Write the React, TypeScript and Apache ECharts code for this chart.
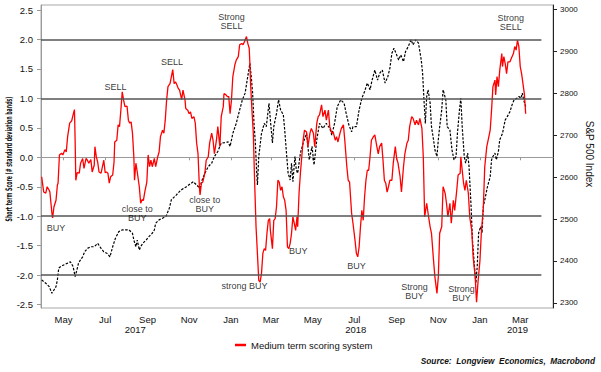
import React, { useEffect, useRef } from "react";
import * as echarts from "echarts";

// ---- Data ----
const scoreSeries: [string, number][] = [
  ["2017-03-30",-0.33],["2017-03-31",-0.42],["2017-04-02",-0.59],["2017-04-05",-0.61],["2017-04-07",-0.50],["2017-04-10",-0.56],["2017-04-11",-0.59],["2017-04-14",-0.95],["2017-04-15",-1.03],["2017-04-17",-0.84],["2017-04-20",-0.73],["2017-04-22",-0.47],["2017-04-23",-0.44],["2017-04-25",0.04],["2017-04-28",0.07],["2017-04-30",0.04],
  ["2017-05-03",0.13],["2017-05-05",0.09],["2017-05-07",0.35],["2017-05-10",0.58],["2017-05-13",0.62],["2017-05-15",0.72],["2017-05-17",0.81],["2017-05-18",0.29],["2017-05-19",-0.39],["2017-05-21",-0.26],["2017-05-24",-0.27],["2017-05-26",-0.10],["2017-05-29",-0.02],["2017-05-31",-0.19],
  ["2017-06-03",-0.02],["2017-06-05",-0.05],["2017-06-07",-0.10],["2017-06-10",-0.04],["2017-06-12",-0.25],["2017-06-15",-0.13],["2017-06-16",0.18],["2017-06-18",0.01],["2017-06-20",-0.08],["2017-06-22",-0.25],["2017-06-25",-0.27],["2017-06-27",-0.16],["2017-06-29",-0.05],
  ["2017-07-01",-0.26],["2017-07-03",-0.25],["2017-07-05",-0.27],["2017-07-07",-0.44],["2017-07-09",-0.33],["2017-07-12",-0.30],["2017-07-14",-0.08],["2017-07-15",0.26],["2017-07-18",0.29],["2017-07-20",0.55],["2017-07-22",0.52],["2017-07-24",0.80],["2017-07-26",1.11],["2017-07-28",0.97],["2017-07-30",0.86],
  ["2017-08-02",0.87],["2017-08-04",0.63],["2017-08-06",0.58],["2017-08-08",0.60],["2017-08-10",0.41],["2017-08-12",0.01],["2017-08-13",-0.39],["2017-08-15",-0.10],["2017-08-17",-0.25],["2017-08-20",-0.50],["2017-08-22",-0.78],["2017-08-24",-0.72],["2017-08-26",-0.73],["2017-08-28",-0.59],["2017-08-31",-0.42],
  ["2017-09-02",0.04],["2017-09-04",-0.16],["2017-09-06",-0.05],["2017-09-08",-0.16],["2017-09-11",-0.02],["2017-09-13",-0.16],["2017-09-16",0.01],["2017-09-18",0.09],["2017-09-20",0.35],["2017-09-23",0.46],["2017-09-25",0.41],["2017-09-27",0.63],["2017-09-29",0.97],
  ["2017-10-01",1.20],["2017-10-04",1.25],["2017-10-06",1.37],["2017-10-08",1.49],["2017-10-10",1.25],["2017-10-12",1.28],["2017-10-14",1.23],["2017-10-16",1.17],["2017-10-18",1.14],["2017-10-21",0.98],["2017-10-23",1.14],["2017-10-26",0.97],["2017-10-27",0.83],["2017-10-30",0.80],
  ["2017-11-01",0.74],["2017-11-03",0.77],["2017-11-05",0.66],["2017-11-08",0.69],["2017-11-10",0.58],["2017-11-12",0.24],["2017-11-14",0.06],["2017-11-16",-0.50],["2017-11-17",-0.64],["2017-11-19",-0.44],["2017-11-21",-0.42],["2017-11-24",-0.27],["2017-11-26",-0.05],["2017-11-29",0.01],
  ["2017-12-01",0.24],["2017-12-04",0.41],["2017-12-06",0.29],["2017-12-08",0.06],["2017-12-11",0.29],["2017-12-13",0.52],["2017-12-16",0.18],["2017-12-18",0.69],["2017-12-21",0.86],["2017-12-22",1.08],["2017-12-25",1.06],["2017-12-27",1.03],["2017-12-29",1.03],["2017-12-31",0.74],
  ["2018-01-02",0.97],["2018-01-04",1.37],["2018-01-07",1.57],["2018-01-09",1.65],["2018-01-12",1.71],["2018-01-14",1.91],["2018-01-17",1.93],["2018-01-19",1.91],["2018-01-21",1.96],["2018-01-24",2.05],["2018-01-26",1.93],["2018-01-28",1.85],["2018-01-29",1.59],["2018-01-30",1.25],
  ["2018-02-01",0.80],["2018-02-03",0.41],["2018-02-05",-0.44],["2018-02-07",-1.18],["2018-02-09",-1.63],["2018-02-11",-2.09],["2018-02-13",-2.12],["2018-02-15",-1.97],["2018-02-17",-1.63],["2018-02-19",-1.55],["2018-02-21",-1.58],["2018-02-23",-1.29],["2018-02-25",-1.07],["2018-02-27",-1.04],["2018-02-28",-1.24],
  ["2018-03-03",-1.55],["2018-03-05",-1.07],["2018-03-07",-1.04],["2018-03-09",-0.84],["2018-03-11",-0.39],["2018-03-13",-0.42],["2018-03-15",-0.56],["2018-03-17",-0.50],["2018-03-19",-0.67],["2018-03-21",-0.73],["2018-03-23",-0.90],["2018-03-25",-1.52],["2018-03-27",-1.55],["2018-03-29",-1.46],["2018-03-31",-1.29],
  ["2018-04-02",-1.01],["2018-04-04",-1.12],["2018-04-06",-1.24],["2018-04-08",-1.01],["2018-04-09",-1.18],["2018-04-11",-0.61],["2018-04-13",-0.27],["2018-04-15",0.01],["2018-04-17",0.29],["2018-04-19",0.46],["2018-04-22",0.43],["2018-04-24",0.18],["2018-04-27",0.41],["2018-04-29",0.49],
  ["2018-05-02",0.41],["2018-05-04",0.18],["2018-05-07",0.58],["2018-05-09",0.69],["2018-05-11",0.72],["2018-05-14",0.89],["2018-05-16",0.69],["2018-05-19",0.80],["2018-05-21",0.63],["2018-05-24",0.80],["2018-05-26",0.52],["2018-05-29",0.41],["2018-05-31",0.43],
  ["2018-06-03",0.29],["2018-06-05",0.35],["2018-06-07",0.26],["2018-06-10",0.41],["2018-06-12",0.49],["2018-06-15",0.55],["2018-06-17",0.29],["2018-06-20",-0.16],["2018-06-22",-0.39],["2018-06-24",-0.42],["2018-06-27",-0.95],["2018-06-29",-1.12],
  ["2018-07-02",-1.41],["2018-07-04",-1.63],["2018-07-06",-1.69],["2018-07-08",-1.52],["2018-07-10",-1.18],["2018-07-12",-0.90],["2018-07-14",-1.07],["2018-07-16",-0.67],["2018-07-18",-0.39],["2018-07-20",-0.22],["2018-07-22",-0.22],["2018-07-24",0.01],["2018-07-26",0.29],["2018-07-29",0.35],["2018-07-31",0.38],
  ["2018-08-03",0.18],["2018-08-05",0.06],["2018-08-07",0.18],["2018-08-10",0.24],["2018-08-12",-0.05],["2018-08-14",-0.39],["2018-08-16",-0.44],["2018-08-18",-0.59],["2018-08-20",-0.50],["2018-08-22",-0.39],["2018-08-25",-0.39],["2018-08-27",-0.10],["2018-08-30",0.18],
  ["2018-09-01",-0.02],["2018-09-03",-0.10],["2018-09-06",-0.33],["2018-09-08",-0.59],["2018-09-11",-0.16],["2018-09-13",0.06],["2018-09-16",0.24],["2018-09-18",0.29],["2018-09-20",0.52],["2018-09-23",0.69],["2018-09-25",0.66],["2018-09-28",0.55],["2018-09-30",0.63],
  ["2018-10-03",0.55],["2018-10-05",0.66],["2018-10-08",0.49],["2018-10-10",0.01],["2018-10-12",-1.01],["2018-10-15",-0.78],["2018-10-17",-0.95],["2018-10-20",-1.18],["2018-10-22",-1.29],["2018-10-25",-1.75],["2018-10-27",-2.03],["2018-10-30",-2.31],
  ["2018-11-01",-2.03],["2018-11-03",-1.29],["2018-11-06",-1.18],["2018-11-08",-0.50],["2018-11-11",-0.61],["2018-11-13",-0.78],["2018-11-15",-1.01],["2018-11-18",-0.78],["2018-11-20",-1.12],["2018-11-23",-0.73],["2018-11-25",-0.90],["2018-11-28",-0.56],["2018-11-30",-0.30],
  ["2018-12-03",-0.27],["2018-12-04",0.01],["2018-12-06",-0.22],["2018-12-08",-0.44],["2018-12-10",-0.56],["2018-12-12",-0.39],["2018-12-15",-0.61],["2018-12-17",-1.01],["2018-12-20",-1.24],["2018-12-22",-1.69],["2018-12-25",-2.03],["2018-12-27",-2.46],["2018-12-29",-2.14],
  ["2019-01-01",-1.75],["2019-01-03",-1.29],["2019-01-06",-0.84],["2019-01-08",-0.16],["2019-01-11",0.18],["2019-01-13",0.29],["2019-01-16",0.46],["2019-01-18",0.80],["2019-01-20",1.20],["2019-01-23",1.31],["2019-01-24",1.06],["2019-01-26",1.37],["2019-01-28",1.20],["2019-01-30",1.48],
  ["2019-02-02",1.76],["2019-02-03",1.54],["2019-02-05",1.71],["2019-02-07",1.59],["2019-02-09",1.42],["2019-02-11",1.62],["2019-02-14",1.62],["2019-02-16",1.68],["2019-02-19",1.76],["2019-02-21",1.88],["2019-02-23",1.82],["2019-02-25",1.99],["2019-02-27",1.88],
  ["2019-03-01",1.54],["2019-03-03",1.42],["2019-03-05",1.25],["2019-03-07",1.08],["2019-03-09",0.74]
];

const spxSeries: [string, number][] = [
  ["2017-03-30",2355],["2017-04-05",2347],["2017-04-10",2339],["2017-04-14",2323],["2017-04-17",2331],["2017-04-20",2339],["2017-04-22",2355],["2017-04-24",2383],["2017-04-27",2387],
  ["2017-05-02",2391],["2017-05-07",2395],["2017-05-11",2398],["2017-05-15",2387],["2017-05-18",2363],["2017-05-20",2375],["2017-05-23",2395],["2017-05-26",2403],["2017-05-29",2410],
  ["2017-06-01",2422],["2017-06-05",2430],["2017-06-10",2434],["2017-06-15",2434],["2017-06-20",2442],["2017-06-25",2430],["2017-06-29",2422],
  ["2017-07-04",2418],["2017-07-08",2410],["2017-07-12",2434],["2017-07-16",2454],["2017-07-21",2470],["2017-07-26",2474],["2017-07-31",2474],
  ["2017-08-05",2474],["2017-08-10",2466],["2017-08-12",2450],["2017-08-15",2434],["2017-08-17",2450],["2017-08-20",2426],["2017-08-22",2434],["2017-08-25",2442],["2017-08-30",2450],
  ["2017-09-03",2458],["2017-09-08",2466],["2017-09-11",2474],["2017-09-13",2490],["2017-09-18",2498],["2017-09-23",2502],["2017-09-28",2506],
  ["2017-10-03",2526],["2017-10-06",2546],["2017-10-13",2557],["2017-10-20",2569],["2017-10-28",2577],
  ["2017-11-07",2589],["2017-11-12",2581],["2017-11-17",2573],["2017-11-19",2589],["2017-11-24",2609],["2017-11-29",2625],
  ["2017-12-04",2633],["2017-12-08",2649],["2017-12-13",2661],["2017-12-18",2681],["2017-12-23",2682],["2017-12-28",2684],["2017-12-31",2673],
  ["2018-01-04",2704],["2018-01-09",2728],["2018-01-14",2760],["2018-01-18",2784],["2018-01-22",2800],["2018-01-25",2831],["2018-01-29",2871],["2018-01-31",2839],
  ["2018-02-02",2800],["2018-02-04",2728],["2018-02-06",2681],["2018-02-08",2609],["2018-02-09",2581],["2018-02-11",2649],["2018-02-15",2704],["2018-02-19",2728],["2018-02-22",2720],["2018-02-26",2776],["2018-02-28",2736],
  ["2018-03-03",2681],["2018-03-05",2720],["2018-03-09",2752],["2018-03-12",2784],["2018-03-15",2760],["2018-03-19",2748],["2018-03-21",2712],["2018-03-24",2649],["2018-03-26",2609],["2018-03-29",2593],["2018-03-31",2633],
  ["2018-04-02",2589],["2018-04-05",2649],["2018-04-07",2617],["2018-04-09",2609],["2018-04-13",2657],["2018-04-17",2681],["2018-04-22",2704],["2018-04-26",2641],["2018-04-30",2673],
  ["2018-05-03",2629],["2018-05-07",2689],["2018-05-11",2728],["2018-05-16",2716],["2018-05-21",2728],["2018-05-26",2716],["2018-05-29",2700],
  ["2018-06-02",2728],["2018-06-06",2768],["2018-06-11",2784],["2018-06-16",2776],["2018-06-19",2752],["2018-06-23",2724],["2018-06-27",2708],["2018-06-29",2720],
  ["2018-07-04",2720],["2018-07-08",2760],["2018-07-12",2788],["2018-07-16",2804],["2018-07-20",2824],["2018-07-24",2808],["2018-07-27",2831],["2018-07-31",2855],
  ["2018-08-04",2831],["2018-08-07",2847],["2018-08-11",2855],["2018-08-15",2824],["2018-08-19",2839],["2018-08-22",2859],["2018-08-25",2895],["2018-08-28",2907],
  ["2018-09-01",2891],["2018-09-04",2879],["2018-09-07",2891],["2018-09-11",2875],["2018-09-14",2899],["2018-09-18",2911],["2018-09-22",2927],["2018-09-25",2915],["2018-09-29",2927],
  ["2018-10-03",2919],["2018-10-07",2879],["2018-10-09",2847],["2018-10-11",2784],["2018-10-13",2728],["2018-10-15",2792],["2018-10-17",2808],["2018-10-20",2776],["2018-10-22",2720],["2018-10-25",2689],["2018-10-27",2665],["2018-10-30",2649],
  ["2018-11-01",2689],["2018-11-03",2720],["2018-11-06",2760],["2018-11-08",2808],["2018-11-12",2784],["2018-11-14",2720],["2018-11-18",2712],["2018-11-21",2665],["2018-11-24",2641],["2018-11-27",2649],["2018-11-29",2704],
  ["2018-12-02",2760],["2018-12-04",2788],["2018-12-06",2720],["2018-12-09",2649],["2018-12-11",2633],["2018-12-14",2657],["2018-12-16",2625],["2018-12-19",2530],["2018-12-21",2450],["2018-12-24",2387],["2018-12-26",2347],["2018-12-28",2387],["2018-12-30",2466],
  ["2019-01-02",2482],["2019-01-04",2466],["2019-01-06",2530],["2019-01-09",2553],["2019-01-12",2577],["2019-01-16",2601],["2019-01-18",2641],["2019-01-20",2649],["2019-01-23",2657],["2019-01-25",2641],["2019-01-28",2661],["2019-01-30",2689],
  ["2019-02-03",2704],["2019-02-05",2720],["2019-02-07",2736],["2019-02-10",2744],["2019-02-14",2756],["2019-02-17",2772],["2019-02-20",2784],["2019-02-24",2788],["2019-02-27",2792],
  ["2019-03-02",2788],["2019-03-04",2800],["2019-03-06",2784],["2019-03-09",2768]
];

const monthTicks = ["2017-05-01","2017-07-01","2017-09-01","2017-11-01","2018-01-01","2018-03-01","2018-05-01","2018-07-01","2018-09-01","2018-11-01","2019-01-01","2019-03-01"];
const monthNames = ["Jan","Feb","Mar","Apr","May","Jun","Jul","Aug","Sep","Oct","Nov","Dec"];
const yearLabelDates = ["2017-08-14","2018-07-03","2019-02-25"];
const scoreTicks = [-2.5,-2,-1.5,-1,-0.5,0,0.5,1,1.5,2,2.5];
const spxTicks = [2300,2400,2500,2600,2700,2800,2900,3000];
const bandLevels = [2,1,-1,-2];
const xStart = "2017-03-29";
const xEnd = "2019-04-18";
const bandEnd = "2019-04-01";

const annotations: { date: string; y: number; text: string }[] = [
  { date: "2017-04-20", y: -1.20, text: "BUY" },
  { date: "2017-07-16", y: 1.19, text: "SELL" },
  { date: "2017-08-17", y: -0.95, text: "close to\nBUY" },
  { date: "2017-10-07", y: 1.62, text: "SELL" },
  { date: "2017-11-24", y: -0.80, text: "close to\nBUY" },
  { date: "2018-01-02", y: 2.30, text: "Strong\nSELL" },
  { date: "2018-01-21", y: -2.19, text: "strong BUY" },
  { date: "2018-04-10", y: -1.59, text: "BUY" },
  { date: "2018-07-04", y: -1.85, text: "BUY" },
  { date: "2018-09-27", y: -2.28, text: "Strong\nBUY" },
  { date: "2018-12-05", y: -2.32, text: "Strong\nBUY" },
  { date: "2019-02-15", y: 2.28, text: "Strong\nSELL" }
];

const ts = (s: string) => {
  const [y, m, d] = s.split("-").map(Number);
  return new Date(y, m - 1, d).getTime();
};

const FONT = '"Liberation Sans", Arial, sans-serif';
const LEFT_NAME = "Short term Score (# standard deviation bands)";
const LEFT_NAME_FONT = 'bold 9px "Liberation Sans Narrow", "DejaVu Sans Condensed", sans-serif';

function measure(text: string, font: string) {
  const c = document.createElement("canvas").getContext("2d");
  if (!c) return 180;
  c.font = font;
  return c.measureText(text).width || 180;
}

export default function App() {
  const ref = useRef<HTMLDivElement>(null);

  useEffect(() => {
    if (!ref.current) return;
    const chart = echarts.init(ref.current, undefined, { renderer: "svg" });
    const monthVals = monthTicks.map(ts);
    const yearVals = yearLabelDates.map(ts);
    const nameScale = 125 / measure(LEFT_NAME, LEFT_NAME_FONT);

    const option: any = {
      animation: false,
      textStyle: { fontFamily: FONT },
      grid: { left: 41, right: 48, top: 5, bottom: 64, show: true, borderColor: "#a8a8a8", borderWidth: 1 },
      legend: {
        data: [{ name: "Medium term scoring system", icon: "rect" }],
        left: 235,
        top: 340,
        padding: 0,
        itemWidth: 11,
        itemHeight: 2.5,
        selectedMode: false,
        textStyle: { fontSize: 9.5, color: "#111", fontFamily: FONT }
      },
      xAxis: [
        {
          type: "value",
          min: ts(xStart),
          max: ts(xEnd),
          axisLine: { show: true, lineStyle: { color: "#9a9a9a", width: 1 } },
          axisTick: { show: true, customValues: monthVals, length: 3, lineStyle: { color: "#9a9a9a" } },
          axisLabel: {
            customValues: monthVals,
            formatter: (v: number) => monthNames[new Date(v).getMonth()],
            fontSize: 9.5,
            color: "#111",
            margin: 6,
            fontFamily: FONT
          },
          splitLine: { show: false }
        },
        {
          type: "value",
          min: ts(xStart),
          max: ts(xEnd),
          position: "bottom",
          offset: 10,
          axisLine: { show: false },
          axisTick: { show: false },
          axisLabel: {
            customValues: yearVals,
            formatter: (v: number) => String(new Date(v).getFullYear()),
            fontSize: 9.5,
            color: "#111",
            margin: 6,
            fontFamily: FONT
          },
          splitLine: { show: false }
        }
      ],
      yAxis: [
        {
          type: "value",
          min: -2.558,
          max: 2.585,
          axisLine: { show: true, lineStyle: { color: "#9a9a9a" } },
          axisTick: { show: true, customValues: scoreTicks, length: 4, lineStyle: { color: "#9a9a9a" } },
          axisLabel: {
            customValues: scoreTicks,
            formatter: (v: number) => v.toFixed(1),
            fontSize: 9.5,
            color: "#111",
            margin: 8,
            fontFamily: FONT
          },
          splitLine: { show: false }
        },
        {
          type: "value",
          position: "right",
          min: 2288,
          max: 3010,
          axisLine: { show: true, lineStyle: { color: "#222" } },
          axisTick: { show: true, customValues: spxTicks, length: 4, lineStyle: { color: "#222" } },
          axisLabel: {
            customValues: spxTicks,
            formatter: (v: number) => String(v),
            fontSize: 8,
            color: "#111",
            margin: 7,
            fontFamily: FONT
          },
          splitLine: { show: false }
        }
      ],
      series: [
        {
          name: "S&P 500 Index",
          type: "line",
          xAxisIndex: 0,
          yAxisIndex: 1,
          showSymbol: false,
          symbol: "none",
          silent: true,
          lineStyle: { color: "#000", width: 1.2, type: [2.5, 1.5] },
          data: spxSeries.map(([d, v]) => [ts(d), v]),
          z: 2
        },
        {
          name: "Medium term scoring system",
          type: "line",
          xAxisIndex: 0,
          yAxisIndex: 0,
          showSymbol: false,
          symbol: "none",
          silent: true,
          itemStyle: { color: "#ff0000" },
          lineStyle: { color: "#ff0000", width: 1.3 },
          data: scoreSeries.map(([d, v]) => [ts(d), v]),
          z: 3,
          markLine: {
            silent: true,
            symbol: ["none", "none"],
            label: { show: false },
            lineStyle: { color: "#555", width: 1.5, type: "solid" },
            data: bandLevels.map((l) => [
              { coord: [ts(xStart), l] },
              { coord: [ts(bandEnd), l] }
            ])
          }
        },
        {
          name: "notes",
          type: "scatter",
          xAxisIndex: 0,
          yAxisIndex: 0,
          symbol: "circle",
          symbolSize: 1,
          silent: true,
          itemStyle: { color: "rgba(0,0,0,0)" },
          z: 10,
          label: {
            show: true,
            position: [0.5, 0.5],
            formatter: "{b}",
            fontSize: 9,
            lineHeight: 9,
            color: "#000",
            textBorderWidth: 0,
            align: "center",
            verticalAlign: "middle",
            fontFamily: FONT
          },
          data: annotations.map((a) => ({ name: a.text, value: [ts(a.date), a.y] }))
        }
      ],
      graphic: [
        {
          type: "text",
          x: 9,
          y: 159,
          rotation: Math.PI / 2,
          scaleX: nameScale,
          style: {
            text: LEFT_NAME,
            font: LEFT_NAME_FONT,
            fill: "#111",
            textAlign: "center",
            textVerticalAlign: "middle"
          }
        },
        {
          type: "text",
          x: 589,
          y: 154,
          rotation: -Math.PI / 2,
          style: {
            text: "S&P 500 Index",
            font: '10px "Liberation Sans", Arial, sans-serif',
            fill: "#111",
            textAlign: "center",
            textVerticalAlign: "middle"
          }
        },
        {
          type: "text",
          right: 6,
          top: 357,
          style: {
            text: "Source:  Longview  Economics,  Macrobond",
            font: 'italic bold 8.3px "Liberation Sans", Arial, sans-serif',
            fill: "#111"
          }
        }
      ]
    };

    chart.setOption(option);
    return () => chart.dispose();
  }, []);

  return (
    <div
      ref={ref}
      style={{ position: "fixed", left: 0, top: 0, width: 601, height: 372, background: "#fff" }}
    />
  );
}
